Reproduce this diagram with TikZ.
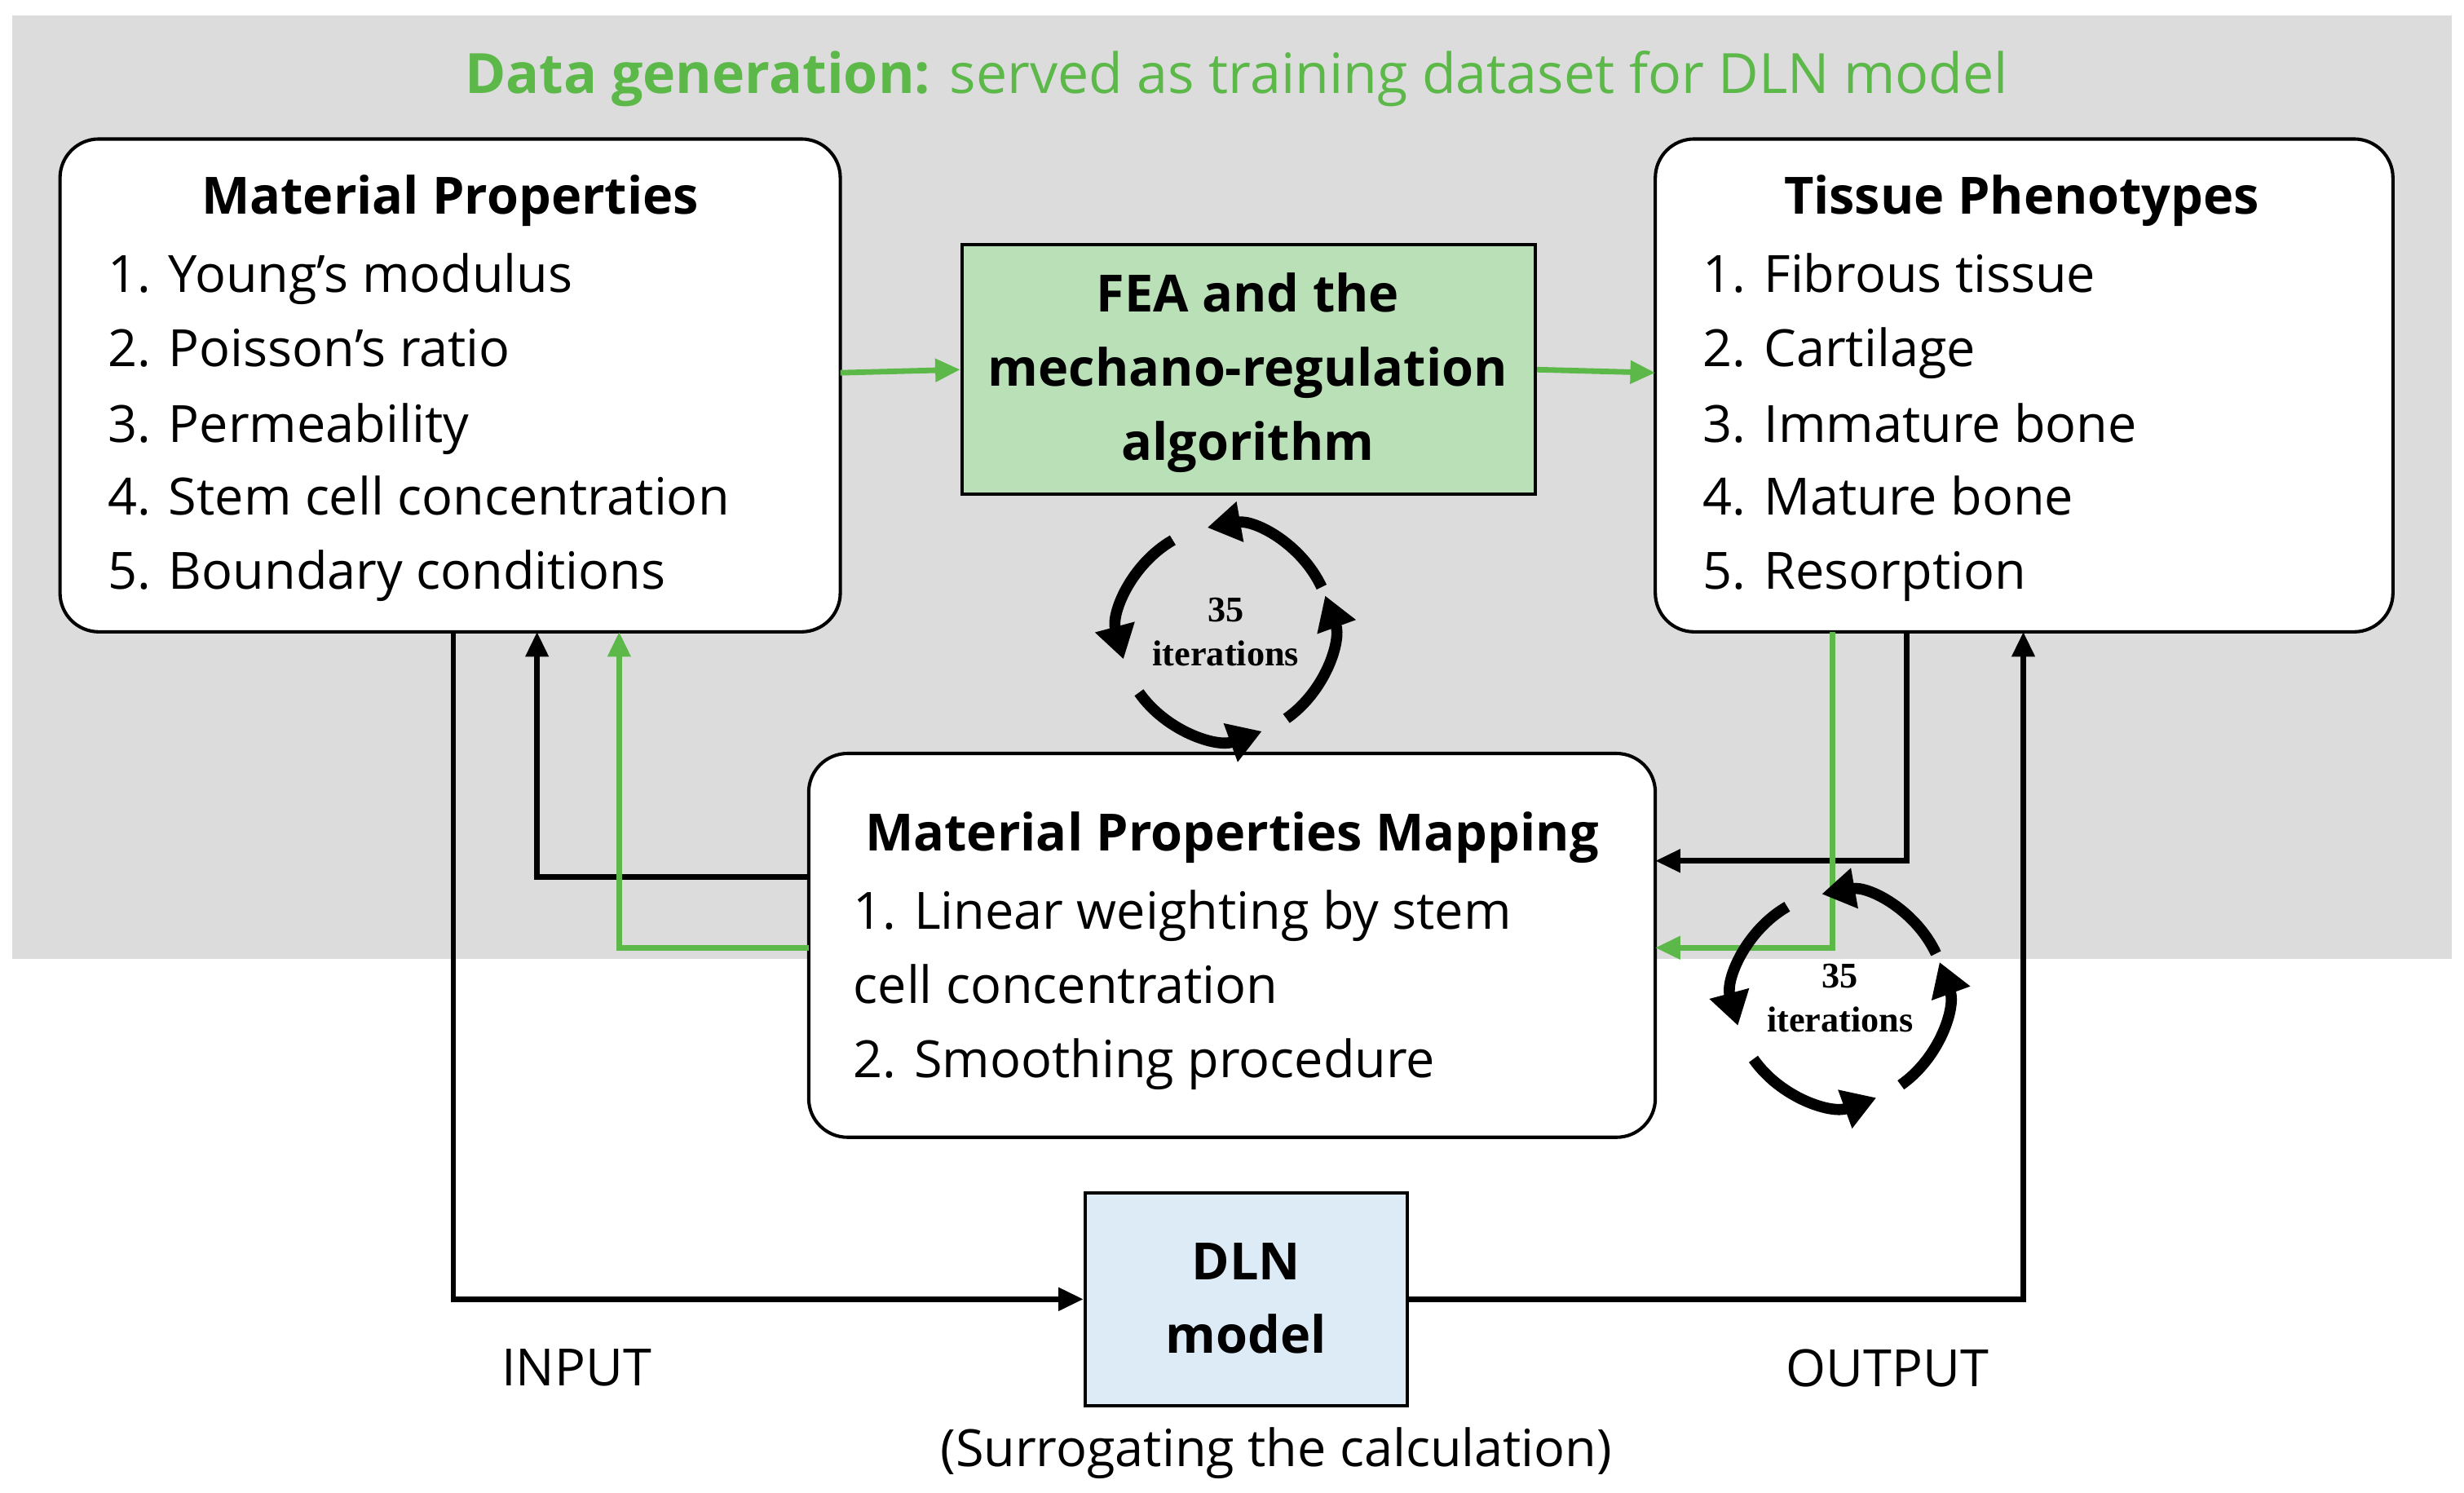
\documentclass[tikz,border=0pt]{standalone}
\usepackage{fontspec}
\setmainfont{Open Sans}
\newfontfamily\itfont{Liberation Serif}
\usetikzlibrary{arrows.meta}
\definecolor{gr}{HTML}{5DB84A}
\definecolor{bgg}{HTML}{DCDCDC}
\definecolor{fea}{HTML}{B9E0B6}
\definecolor{dln}{HTML}{DDEBF7}
\begin{document}
\begin{tikzpicture}[x=0.02cm,y=-0.02cm,
 box/.style={draw,line width=1.2pt,rounded corners=14pt,fill=white},
 sq/.style={draw,line width=1.2pt},
 txt/.style={font=\fontsize{18.5}{26.6}\selectfont,align=left,inner sep=0},
 hd/.style={font=\fontsize{18.5}{26.6}\selectfont\bfseries,align=center,inner sep=0},
 ar/.style={line width=2pt,-{Triangle[length=9pt,width=8pt]}},
 cyc/.style={line width=4pt,-{Triangle[length=12pt,width=14pt]}},
 it/.style={font=\itfont\fontsize{13}{16}\selectfont\bfseries,align=center}]
\useasboundingbox (0,0) rectangle (1560,945);
\fill[bgg] (8,10) rectangle (1552,607);
\node[font=\fontsize{20}{22}\selectfont,text=gr] (title) at (783,50) {\textbf{Data generation:} served as training dataset for DLN model};
\draw[box] (38,88) rectangle (532,400);
\draw[box] (1048,88) rectangle (1515,400);
\draw[box] (512,477) rectangle (1048,720);
\node[sq,fill=fea,minimum width=363*0.02cm,minimum height=158*0.02cm] (F) at (790.5,234) {};
\node[sq,fill=dln,minimum width=204*0.02cm,minimum height=135*0.02cm] (D) at (789,822.5) {};
\coordinate (Lr) at (532,236); \coordinate (Rl) at (1048,236);
\coordinate (Lb1) at (287,400); \coordinate (Lb2) at (340,400); \coordinate (Lb3) at (392,400);
\coordinate (Rb1) at (1281,400); \coordinate (Rb2) at (1207,400); \coordinate (Rb3) at (1160,400);
\coordinate (Ml1) at (512,555); \coordinate (Ml2) at (512,600);
\coordinate (Mr1) at (1048,545); \coordinate (Mr2) at (1048,600);
% texts
\node[hd] (lt) at (285,127) {Material Properties};
\node[txt,anchor=base west] (l1) at (68,185) {1. Young’s modulus};
\node[txt,anchor=base west] (l2) at (68,232) {2. Poisson’s ratio};
\node[txt,anchor=base west] (l3) at (68,280) {3. Permeability};
\node[txt,anchor=base west] (l4) at (68,326) {4. Stem cell concentration};
\node[txt,anchor=base west] (l5) at (68,373) {5. Boundary conditions};
\node[hd] (rt) at (1280,127) {Tissue Phenotypes};
\node[txt,anchor=base west] (r1) at (1078,185) {1. Fibrous tissue};
\node[txt,anchor=base west] (r2) at (1078,232) {2. Cartilage};
\node[txt,anchor=base west] (r3) at (1078,280) {3. Immature bone};
\node[txt,anchor=base west] (r4) at (1078,326) {4. Mature bone};
\node[txt,anchor=base west] (r5) at (1078,373) {5. Resorption};
\node[hd] (ft) at (790,236) {FEA and the\\mechano-regulation\\algorithm};
\node[hd] (mt) at (780,530) {Material Properties Mapping};
\node[txt,anchor=base west] (m1) at (540,588) {1. Linear weighting by stem};
\node[txt,anchor=base west] (m2) at (540,635) {cell concentration};
\node[txt,anchor=base west] (m3) at (540,682) {2. Smoothing procedure};
\node[hd] (dt) at (789,822) {DLN\\model};
\node[txt] (inp) at (365,866) {INPUT};
\node[txt] (outp) at (1195,866) {OUTPUT};
\node[txt] (sur) at (808,920) {(Surrogating the calculation)};
% arrows
\draw[ar,gr] (Lr) -- (F.west);
\draw[ar,gr] (F.east) -- (Rl);
\draw[ar] (Lb1) |- (D.west);
\draw[ar] (D.east) -| (Rb1);
\draw[ar] (Ml1) -| (Lb2);
\draw[ar,gr] (Ml2) -| (Lb3);
\draw[ar] (Rb2) |- (Mr1);
\draw[ar,gr] (Rb3) |- (Mr2);
% cycles
\foreach \c/\n in {{(776,400)}/a,{(1165,632)}/b}{
 \node[it] (c\n) at \c {35\\iterations};
 \foreach \s in {25,120,215,305}{
  \draw[cyc] \c ++(-\s:67) arc[start angle=-\s,end angle=-\s-75,radius=67];
 }
}
\end{tikzpicture}
\end{document}
